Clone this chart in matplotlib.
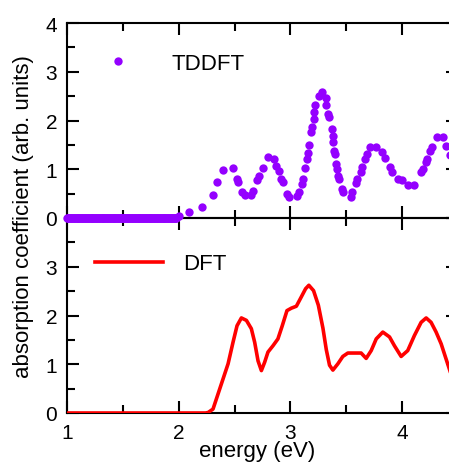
import matplotlib
matplotlib.use("Agg")
import matplotlib.pyplot as plt
from matplotlib.ticker import MultipleLocator
import numpy as np

# TDDFT: flat zero run below 2 eV (sampling grid of the data file), then the read-off dots
tddft_flat_energy = np.linspace(1.0, 1.98, 150)
tddft_flat_value = np.zeros_like(tddft_flat_energy)
tddft_energy = [
    2.00, 2.095, 2.21, 2.305, 2.345, 2.40, 2.485, 2.52, 2.535, 2.565, 2.59,
    2.65, 2.665, 2.70, 2.72, 2.75, 2.80, 2.85, 2.875, 2.90, 2.92, 2.93, 2.97,
    2.985, 3.06, 3.075, 3.10, 3.115, 3.13, 3.15, 3.155, 3.165, 3.185, 3.195,
    3.21, 3.215, 3.22, 3.255, 3.285, 3.315, 3.32, 3.335, 3.345, 3.37, 3.38,
    3.385, 3.39, 3.395, 3.405, 3.42, 3.43, 3.435, 3.46, 3.47, 3.54, 3.555,
    3.585, 3.60, 3.63, 3.64, 3.67, 3.685, 3.715, 3.77, 3.82, 3.85, 3.89,
    3.905, 3.96, 3.995, 4.055, 4.11, 4.17, 4.185, 4.215, 4.225, 4.25, 4.265,
    4.315, 4.365, 4.395, 4.43,
]
tddft_value = [
    0.05, 0.12, 0.22, 0.47, 0.74, 0.98, 1.03, 0.80, 0.73, 0.54, 0.47,
    0.47, 0.55, 0.77, 0.87, 1.03, 1.26, 1.21, 1.07, 0.96, 0.81, 0.73, 0.49,
    0.44, 0.46, 0.54, 0.70, 0.80, 1.02, 1.21, 1.33, 1.50, 1.76, 1.86,
    2.03, 2.17, 2.32, 2.51, 2.58, 2.46, 2.32, 2.13, 2.08, 1.83, 1.69,
    1.55, 1.38, 1.32, 1.11, 1.00, 0.87, 0.80, 0.59, 0.53, 0.44, 0.53,
    0.71, 0.80, 0.95, 1.04, 1.21, 1.31, 1.46, 1.46, 1.35, 1.24, 1.04,
    0.95, 0.80, 0.77, 0.68, 0.68, 0.94, 1.00, 1.14, 1.22, 1.38, 1.45,
    1.67, 1.66, 1.48, 1.30,
]

dft_energy = [
    1.00, 2.24, 2.263, 2.307, 2.352, 2.397, 2.442, 2.486, 2.522, 2.561,
    2.606, 2.650, 2.680, 2.710, 2.740, 2.769, 2.799, 2.844, 2.888, 2.927,
    2.969, 3.008, 3.053, 3.097, 3.136, 3.165, 3.207, 3.250, 3.291, 3.321,
    3.350, 3.380, 3.425, 3.469, 3.514, 3.574, 3.633, 3.678, 3.723, 3.768,
    3.827, 3.887, 3.931, 3.991, 4.050, 4.110, 4.170, 4.215, 4.259, 4.304,
    4.349, 4.393, 4.43,
]
dft_value = [
    0.00, 0.00, 0.01, 0.08, 0.39, 0.70, 1.01, 1.45, 1.79, 1.95,
    1.90, 1.73, 1.45, 1.07, 0.87, 1.04, 1.25, 1.38, 1.52, 1.79,
    2.10, 2.15, 2.19, 2.38, 2.55, 2.62, 2.51, 2.21, 1.74, 1.30,
    0.98, 0.88, 1.01, 1.16, 1.23, 1.23, 1.23, 1.12, 1.28, 1.52,
    1.66, 1.56, 1.38, 1.16, 1.28, 1.59, 1.86, 1.95, 1.86, 1.66,
    1.42, 1.11, 0.85,
]

purple = "#9400ff"
red = "#ff0000"

plt.rcParams["font.family"] = ["Liberation Sans", "DejaVu Sans"]
plt.rcParams["font.size"] = 16

W, H = 449, 464
fig = plt.figure(figsize=(W / 100, H / 100), dpi=100)

x_left, x_right = 67, 458
ax_top = fig.add_axes([x_left / W, 1 - 219 / H, (x_right - x_left) / W, 195 / H])
ax_bot = fig.add_axes([x_left / W, 1 - 414 / H, (x_right - x_left) / W, 195 / H])
ax_top.set_zorder(3)
ax_top.patch.set_alpha(0)

for ax in (ax_top, ax_bot):
    ax.set_xlim(1, 4.5)
    ax.set_ylim(0, 4)
    ax.xaxis.set_major_locator(MultipleLocator(1))
    ax.xaxis.set_minor_locator(MultipleLocator(0.5))
    ax.yaxis.set_major_locator(MultipleLocator(1))
    ax.yaxis.set_minor_locator(MultipleLocator(0.5))
    ax.tick_params(which="both", direction="in", top=True, right=True,
                   width=1.5, labelsize=15)
    ax.tick_params(which="major", length=8.5, pad=7)
    ax.tick_params(which="minor", length=5.5)
    for s in ax.spines.values():
        s.set_linewidth(1.5)

ax_top.plot(tddft_flat_energy, tddft_flat_value, "o", color=purple,
            markersize=6, markeredgewidth=0, clip_on=False, zorder=4)
ax_top.plot(tddft_energy, tddft_value, "o", color=purple, markersize=6,
            markeredgewidth=0, clip_on=False, zorder=4, label="TDDFT")
ax_top.tick_params(labelbottom=False)

ax_bot.plot(dft_energy, dft_value, "-", color=red, linewidth=2.6,
            solid_joinstyle="round", zorder=4, label="DFT")
ax_bot.set_yticks([0, 1, 2, 3, 4])
ax_bot.set_yticklabels(["0", "1", "2", "3", ""])

ax_top.legend(loc="center left", bbox_to_anchor=(84 / W, 1 - 64 / H),
              bbox_transform=fig.transFigure, frameon=False, numpoints=1,
              handlelength=3.06, handletextpad=0.9, borderpad=0,
              borderaxespad=0, fontsize=16)
ax_bot.legend(loc="center left", bbox_to_anchor=(95 / W, 1 - 265 / H),
              bbox_transform=fig.transFigure, frameon=False,
              handlelength=3.06, handletextpad=0.9, borderpad=0,
              borderaxespad=0, fontsize=16)

fig.text(24 / W, 1 - 217 / H, "absorption coefficient (arb. units)",
         rotation=90, ha="center", va="center", fontsize=16)
fig.text(257.5 / W, 1 - 452 / H, "energy (eV)", ha="center", va="center",
         fontsize=16)

fig.savefig("out.png", dpi=100)
